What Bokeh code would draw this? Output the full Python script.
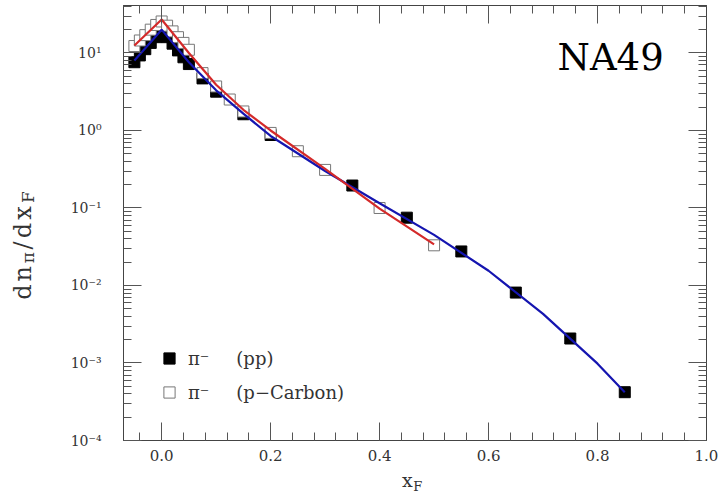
import math
from bokeh.plotting import figure
from bokeh.layouts import row, column
from bokeh.core.properties import value
from bokeh.models import (Range1d, LogAxis, LinearAxis, Label, Legend, LegendItem,
                          FixedTicker, CustomJSTickFormatter)
from bokeh.embed import file_html
from bokeh.resources import INLINE

# ---------------- data ----------------
pp_x = [-0.05, -0.04, -0.03, -0.02, -0.01, 0.0, 0.01, 0.02, 0.03, 0.04, 0.05,
        0.075, 0.1, 0.15, 0.2, 0.35, 0.45, 0.55, 0.65, 0.75, 0.85]
pp_y = [7.6, 9.3, 11.2, 13.5, 16.0, 18.0, 16.0, 13.2, 10.8, 8.8, 7.2,
        4.7, 3.17, 1.62, 0.875, 0.195, 0.075, 0.0275, 0.0081, 0.00207, 0.00042]

pc_x = [-0.05, -0.04, -0.03, -0.02, -0.01, 0.0, 0.01, 0.02, 0.03, 0.04, 0.05,
        0.075, 0.1, 0.125, 0.15, 0.2, 0.25, 0.3, 0.4, 0.5]
pc_y = [12.3, 14.5, 17.0, 20.0, 23.0, 25.5, 22.5, 19.0, 16.0, 13.5, 11.0,
        5.5, 3.7, 2.51, 1.76, 0.93, 0.54, 0.31, 0.10, 0.033]

fit_pp_x = [-0.05, 0.0, 0.05, 0.1, 0.15, 0.2, 0.3, 0.4, 0.5, 0.6, 0.7, 0.8, 0.85]
fit_pp_y = [8.0, 20.0, 7.6, 3.3, 1.65, 0.85, 0.30, 0.115, 0.045, 0.0155, 0.0043, 0.00098, 0.00042]

fit_pc_x = [-0.05, 0.0, 0.05, 0.1, 0.15, 0.2, 0.3, 0.4, 0.5]
fit_pc_y = [12.5, 27.0, 10.0, 3.9, 1.85, 1.0, 0.32, 0.098, 0.034]

x_major = [0.0, 0.2, 0.4, 0.6, 0.8, 1.0]
x_minor = [round(-0.04 + 0.04 * i, 2) for i in range(26)]
y_major = [1e-4, 1e-3, 1e-2, 1e-1, 1.0, 10.0]
y_minor = [m * 10.0 ** e for e in range(-4, 2) for m in range(2, 10)]

legend_labels = ["π⁻\u2002\u2002\u2002(pp)", "π⁻\u2002\u2002\u2002(p−Carbon)"]
title_text = "NA49"

# axis titles, split into pieces (main text / subscripts)
ylab_text = ["d", "n", "π", "/", "d", "x", "F"]
ylab_sub = [False, False, True, False, False, False, True]
ylab_adv = [0.64, 0.644, 0.62, 0.337, 0.64, 0.592, 0.683]   # advance widths, em
xlab_text = ["x", "F"]

# ---------------- geometry ----------------
X_LO, X_HI = -0.07, 1.0
Y_LO, Y_HI = 1e-4, 41.0
W, H = 720, 494
YL_W = 40          # left strip holding the y title
XL_H = 24          # bottom strip holding the x title
MW, MH = W - YL_W, H - XL_H
BL, BR, BT, BB = 123 - YL_W, 14, 5, 30

SERIF = "DejaVu Serif"
TXT = "#333333"
TICK = "#555555"

p = figure(width=MW, height=MH, x_range=Range1d(X_LO, X_HI), y_range=Range1d(Y_LO, Y_HI),
           y_axis_type="log", output_backend="svg", toolbar_location=None,
           min_border_left=BL, min_border_right=BR, min_border_top=BT, min_border_bottom=BB)
p.grid.visible = False
p.outline_line_color = "#444444"
p.outline_line_width = 1
p.background_fill_color = "white"
p.border_fill_color = "white"


def style_axis(ax, show_labels):
    ax.major_tick_in = 18
    ax.major_tick_out = 0
    ax.minor_tick_in = 8
    ax.minor_tick_out = 0
    ax.major_tick_line_color = TICK
    ax.minor_tick_line_color = TICK
    ax.axis_line_color = "#444444"
    ax.major_label_text_font = SERIF
    ax.major_label_text_font_size = "14px"
    ax.major_label_text_color = TXT
    if not show_labels:
        ax.major_label_text_font_size = "0px"
        ax.major_label_standoff = 0
        ax.formatter = CustomJSTickFormatter(code="return '';")


xt = FixedTicker(ticks=x_major, minor_ticks=x_minor)
yt = FixedTicker(ticks=y_major, minor_ticks=y_minor)
xfmt = CustomJSTickFormatter(code="return tick.toFixed(1);")
yfmt = CustomJSTickFormatter(code="""
const sup = {'-':'\u207b','0':'\u2070','1':'\u00b9','2':'\u00b2','3':'\u00b3','4':'\u2074','5':'\u2075','6':'\u2076','7':'\u2077','8':'\u2078','9':'\u2079'};
const e = Math.round(Math.log10(tick));
return '10' + String(e).split('').map(c => sup[c]).join('');
""")

xa = p.xaxis[0]
xa.ticker = xt
xa.formatter = xfmt
style_axis(xa, True)
xa.major_label_text_font_size = "15px"
xa.major_label_standoff = 9

ya = p.yaxis[0]
ya.ticker = yt
ya.formatter = yfmt
style_axis(ya, True)
ya.major_label_standoff = 22

top = LinearAxis(ticker=xt)
style_axis(top, False)
p.add_layout(top, "above")
right = LogAxis(ticker=yt)
style_axis(right, False)
p.add_layout(right, "right")

# ---------------- glyphs ----------------
r_pp = p.scatter(pp_x, pp_y, marker="square", size=11, fill_color="black", line_color="black")
r_pc = p.scatter(pc_x, pc_y, marker="square", size=11, fill_color="white", line_color="#777777",
                 line_width=1)
p.line(fit_pp_x, fit_pp_y, line_color="#1515b0", line_width=2.2)
p.line(fit_pc_x, fit_pc_y, line_color="#d42a2a", line_width=2.2)

legend = Legend(items=[LegendItem(label=legend_labels[0], renderers=[r_pp]),
                       LegendItem(label=legend_labels[1], renderers=[r_pc])],
                location=(32, 34), orientation="vertical",
                glyph_width=28, glyph_height=28, spacing=6, padding=0, margin=0,
                label_standoff=5, label_text_font=SERIF, label_text_font_size="18px",
                label_text_color=TXT, border_line_color=None, background_fill_alpha=0)
p.add_layout(legend)

# NA49 label, screen px relative to the frame's bottom-left corner
p.add_layout(Label(x=557 - 123, y=440 - 57, x_units="screen", y_units="screen",
                   text=title_text, text_font=SERIF, text_font_size="37px",
                   text_color="black", text_align="left", text_baseline="middle"))


def strip(width, height, x_range=None):
    f = figure(width=width, height=height,
               x_range=x_range if x_range is not None else Range1d(0, width),
               y_range=Range1d(0, height),
               output_backend="svg", toolbar_location=None,
               x_axis_location=None, y_axis_location=None,
               min_border=0, min_border_left=0, min_border_right=0, min_border_top=0,
               min_border_bottom=0)
    f.grid.visible = False
    f.outline_line_color = None
    return f


# ---------------- y title strip (rotated, reads bottom to top) ----------------
yl = strip(YL_W, H)
MAIN_FS, SUB_FS, GAP = 24, 17, 3
sizes = [SUB_FS if s else MAIN_FS for s in ylab_sub]
lengths = [a * s for a, s in zip(ylab_adv, sizes)]
total = sum(lengths) + GAP * (len(lengths) - 1)
pos = 245 + total / 2          # start (bottom) of the title, px from top
for ch, sub, fs, ln in zip(ylab_text, ylab_sub, sizes, lengths):
    centre = pos - ln / 2
    pos -= ln + GAP
    bx = 27.5 if sub else 22.5
    yl.text(x=[bx], y=[H - centre], text=[ch], angle=math.pi / 2, text_font=value(SERIF),
            text_font_size=value(f"{fs}px"), text_color=TXT, text_align="center",
            text_baseline="middle")

# ---------------- x title strip (frame aligned with the main plot) ----------------
xl = strip(MW, XL_H, x_range=p.x_range)
xl.text(x=[0.451], y=[H - 479], text=[xlab_text[0]], text_font=value(SERIF),
        text_font_size=value("19px"), text_color=TXT, text_align="center",
        text_baseline="middle")
xl.text(x=[0.462], y=[H - 486], text=[xlab_text[1]], text_font=value(SERIF),
        text_font_size=value("13px"), text_color=TXT, text_align="left",
        text_baseline="middle")

layout = row(yl, column(p, xl, spacing=0), spacing=0)
open("out.html", "w").write(file_html(layout, INLINE))
